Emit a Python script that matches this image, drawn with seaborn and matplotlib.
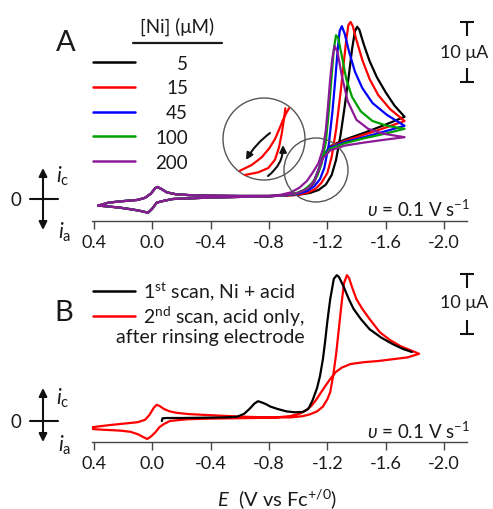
import numpy as np
import pandas as pd
import matplotlib
matplotlib.use("Agg")
import matplotlib.pyplot as plt
import seaborn as sns
from matplotlib.patches import Ellipse, FancyArrowPatch
from matplotlib.lines import Line2D

# ---------------- data (E in V vs Fc, i in uA, cathodic positive) ----------------
TICKS = [0.4, 0.0, -0.4, -0.8, -1.2, -1.6, -2.0]
TICK_LABELS = ["0.4", "0.0", "-0.4", "-0.8", "-1.2", "-1.6", "-2.0"]

# Panel A : common ferrocene part
A_FC_FWD_E = [0.37, 0.30, 0.20, 0.10, 0.05, 0.01, -0.02, -0.035, -0.06, -0.10, -0.16, -0.25, -0.40, -0.60, -0.80]
A_FC_FWD_I = [-1.1, -0.6, -0.35, -0.15, 0.2, 0.9, 1.8, 2.0, 1.7, 1.1, 0.8, 0.65, 0.55, 0.5, 0.5]
A_FC_REV_E = [-0.80, -0.60, -0.40, -0.25, -0.14, -0.08, -0.03, 0.00, 0.03, 0.06, 0.10, 0.15, 0.22, 0.30, 0.37]
A_FC_REV_I = [0.45, 0.35, 0.25, 0.1, 0.0, -0.3, -0.6, -1.6, -2.3, -2.1, -1.9, -1.7, -1.45, -1.25, -1.1]

NI_CONC = ["5", "15", "45", "100", "200"]
NI_COLORS = ["#000000", "#ff0000", "#0000ff", "#00a000", "#8b1a96"]

A_FWD_E = {
    "5":   [-0.90, -1.00, -1.08, -1.14, -1.19, -1.23, -1.26, -1.29, -1.32, -1.35, -1.37, -1.39, -1.405, -1.42, -1.45, -1.49, -1.54, -1.60, -1.66, -1.73],
    "15":  [-0.90, -1.00, -1.07, -1.12, -1.16, -1.20, -1.23, -1.26, -1.29, -1.31, -1.33, -1.345, -1.36, -1.375, -1.40, -1.44, -1.49, -1.55, -1.63, -1.73],
    "45":  [-0.90, -0.99, -1.06, -1.11, -1.15, -1.18, -1.21, -1.235, -1.255, -1.27, -1.285, -1.30, -1.32, -1.35, -1.39, -1.44, -1.51, -1.61, -1.73],
    "100": [-0.90, -0.98, -1.04, -1.09, -1.13, -1.16, -1.19, -1.21, -1.23, -1.245, -1.26, -1.275, -1.30, -1.33, -1.37, -1.43, -1.51, -1.61, -1.73],
    "200": [-0.88, -0.95, -1.01, -1.06, -1.10, -1.14, -1.17, -1.19, -1.205, -1.22, -1.235, -1.25, -1.27, -1.30, -1.34, -1.40, -1.48, -1.58, -1.73],
}
A_FWD_I = {
    "5":   [0.55, 0.7, 1.0, 1.5, 2.4, 4.0, 6.5, 10.5, 15.5, 21.0, 25.0, 28.0, 28.7, 28.2, 25.8, 23.0, 20.3, 17.8, 15.6, 13.7],
    "15":  [0.55, 0.7, 1.1, 1.7, 2.7, 4.3, 7.0, 11.5, 17.5, 22.0, 26.5, 29.0, 29.5, 28.8, 26.5, 23.2, 20.0, 17.3, 15.0, 13.0],
    "45":  [0.6, 0.8, 1.3, 2.1, 3.3, 5.2, 9.0, 14.5, 20.0, 24.5, 28.0, 28.8, 27.5, 24.5, 21.2, 18.5, 16.0, 14.0, 12.2],
    "100": [0.6, 0.9, 1.5, 2.5, 3.8, 5.8, 9.5, 14.5, 20.5, 25.0, 27.3, 26.8, 23.8, 20.0, 17.0, 14.6, 13.0, 12.2, 11.7],
    "200": [0.7, 1.1, 1.9, 3.0, 4.4, 6.0, 8.3, 11.5, 15.5, 20.0, 23.5, 25.5, 24.5, 20.5, 16.3, 13.2, 11.7, 10.9, 10.3],
}
A_REV_E = [-1.73, -1.60, -1.45, -1.32, -1.22, -1.17, -1.14, -1.11, -1.07, -1.00, -0.90]
A_REV_I = {
    "5":   [13.7, 12.4, 11.0, 9.9, 8.8, 7.0, 4.6, 2.8, 1.6, 0.9, 0.6],
    "15":  [13.0, 11.9, 10.7, 9.7, 8.7, 7.1, 4.8, 2.9, 1.7, 1.0, 0.6],
    "45":  [12.2, 11.3, 10.3, 9.5, 8.6, 7.1, 4.9, 3.0, 1.8, 1.0, 0.6],
    "100": [11.7, 10.9, 10.1, 9.3, 8.4, 7.0, 4.9, 3.0, 1.8, 1.0, 0.6],
    "200": [10.3, 9.9, 9.4, 8.9, 8.1, 6.8, 4.8, 3.0, 1.8, 1.0, 0.6],
}

# Panel B : 1st scan (Ni + acid), black
B1_E = [-0.065, -0.07, -0.10, -0.20, -0.35, -0.50, -0.58, -0.63, -0.67, -0.70, -0.725, -0.75, -0.78, -0.81,
        -0.86, -0.92, -0.98, -1.03, -1.07, -1.10, -1.13, -1.15, -1.17, -1.185, -1.20, -1.22, -1.245, -1.265,
        -1.28, -1.31, -1.35, -1.38, -1.43, -1.49, -1.57, -1.65, -1.72, -1.78]
B1_I = [0.0, 0.45, 0.5, 0.5, 0.55, 0.6, 0.7, 1.2, 2.1, 2.9, 3.3, 3.1, 2.8, 2.4,
        2.0, 1.6, 1.45, 1.5, 2.0, 3.5, 5.5, 7.5, 10.3, 13.2, 16.5, 20.3, 23.7, 24.3,
        24.0, 22.5, 20.2, 18.7, 17.0, 15.3, 13.9, 12.8, 12.0, 11.5]

# Panel B : 2nd scan (acid only), red
B2_E = [0.47, 0.40, 0.30, 0.20, 0.10, 0.05, 0.02, -0.01, -0.03, -0.05, -0.08, -0.12, -0.17, -0.25, -0.37,
        -0.50, -0.65, -0.80, -0.95, -1.03, -1.08, -1.13, -1.17, -1.20, -1.22, -1.24, -1.26, -1.28, -1.30,
        -1.315, -1.335, -1.35, -1.37, -1.40, -1.44, -1.49, -1.56, -1.63, -1.70, -1.77, -1.83,
        -1.75, -1.65, -1.55, -1.45, -1.36, -1.30, -1.26, -1.22, -1.18, -1.15, -1.12, -1.09, -1.05, -1.01,
        -0.94, -0.85, -0.70, -0.55, -0.40, -0.25, -0.18, -0.12, -0.08, -0.05, -0.02, 0.01, 0.035, 0.06,
        0.10, 0.15, 0.22, 0.30, 0.38, 0.47]
B2_I = [-1.2, -1.0, -0.7, -0.45, -0.2, 0.2, 1.0, 2.2, 2.7, 2.5, 2.0, 1.6, 1.35, 1.15, 1.0,
        0.85, 0.7, 0.6, 0.6, 0.8, 1.1, 1.6, 2.4, 3.6, 4.8, 7.5, 11.0, 15.5, 20.0,
        23.0, 24.3, 23.8, 22.3, 20.3, 18.7, 17.0, 14.8, 13.5, 12.5, 11.8, 11.2,
        10.6, 10.3, 10.0, 9.8, 9.5, 8.9, 8.2, 7.0, 5.6, 4.5, 3.4, 2.5, 1.7, 1.2,
        0.8, 0.6, 0.5, 0.45, 0.4, 0.3, 0.15, 0.0, -0.5, -1.0, -1.9, -2.6, -3.0, -2.7,
        -2.2, -1.8, -1.6, -1.5, -1.4, -1.2]

# ---------------- figure ----------------
W, H = 493, 510
sns.set_style("ticks")
plt.rcParams["font.family"] = ["Lato", "DejaVu Sans"]
plt.rcParams["mathtext.fontset"] = "custom"
plt.rcParams["mathtext.rm"] = "Lato"
plt.rcParams["mathtext.it"] = "Lato:italic"
plt.rcParams["mathtext.bf"] = "Lato:bold"
plt.rcParams["mathtext.fallback"] = "stixsans"
TXT = "#1a1a1a"
AX = "#444444"

fig = plt.figure(figsize=(W / 100, H / 100), dpi=100)


def fx(px):
    return px / W


def fy(py):
    return 1 - py / H


def E_of(px):
    return 0.4 - (px - 94) / 145.8


axA = fig.add_axes([fx(92), fy(222), (467 - 92) / W, 222 / H])
axB = fig.add_axes([fx(92), fy(443), (467 - 92) / W, (443 - 250) / H])
axA.set_xlim(E_of(92), E_of(467))
axB.set_xlim(E_of(92), E_of(467))
axA.set_ylim((200 - 222) / 6, 200 / 6)
axB.set_ylim((422 - 443) / 6, (422 - 250) / 6)

for ax in (axA, axB):
    ax.set_facecolor("none")
    for s in ("left", "top", "right"):
        ax.spines[s].set_visible(False)
    ax.spines["bottom"].set_color(AX)
    ax.spines["bottom"].set_linewidth(1.0)
    ax.set_xticks(TICKS)
    ax.set_xticklabels(TICK_LABELS)
    ax.set_yticks([])
    ax.tick_params(axis="x", direction="out", length=6, width=1.0, color=AX,
                   labelsize=13, labelcolor=TXT, pad=3.5)

# Panel A curves
for conc, col in zip(NI_CONC, NI_COLORS):
    E = A_FC_FWD_E + A_FWD_E[conc] + A_REV_E[1:] + A_FC_REV_E
    I = A_FC_FWD_I + A_FWD_I[conc] + A_REV_I[conc][1:] + A_FC_REV_I
    df = pd.DataFrame({"E": E, "i": I})
    sns.lineplot(data=df, x="E", y="i", sort=False, estimator=None, color=col,
                 lw=1.6, ax=axA, legend=False)

# Panel B curves
sns.lineplot(data=pd.DataFrame({"E": B2_E, "i": B2_I}), x="E", y="i", sort=False,
             estimator=None, color="#ff0000", lw=1.6, ax=axB, legend=False)
sns.lineplot(data=pd.DataFrame({"E": B1_E, "i": B1_I}), x="E", y="i", sort=False,
             estimator=None, color="#000000", lw=1.6, ax=axB, legend=False)
for ax in (axA, axB):
    ax.set_xlabel("")
    ax.set_ylabel("")

# ---------------- annotations ----------------
def fline(xs, ys, **kw):
    fig.add_artist(Line2D([fx(x) for x in xs], [fy(y) for y in ys],
                          transform=fig.transFigure, **kw))


def ftext(x, y, s, **kw):
    kw.setdefault("color", TXT)
    fig.text(fx(x), fy(y), s, **kw)


def farrow(p0, p1, style="-|>", rad=0.0, ms=9, lw=1.3, color="#111111"):
    fig.add_artist(FancyArrowPatch((fx(p0[0]), fy(p0[1])), (fx(p1[0]), fy(p1[1])),
                                   transform=fig.transFigure, arrowstyle=style,
                                   mutation_scale=ms, lw=lw, color=color,
                                   shrinkA=0, shrinkB=0,
                                   connectionstyle=f"arc3,rad={rad}"))


# panel letters
ftext(66, 43, "A", fontsize=21, ha="center", va="center")
ftext(64, 313, "B", fontsize=21, ha="center", va="center")

# legend A
ftext(177, 27, "[Ni] (μM)", fontsize=13.5, ha="center", va="center")
fline([133, 222], [44, 44], color=TXT, lw=1.6)
for k, (conc, col) in enumerate(zip(NI_CONC, NI_COLORS)):
    yy = 63 + k * 24.8
    fline([93, 135], [yy, yy], color=col, lw=1.8)
    ftext(188, yy + 1, conc, fontsize=13.5, ha="right", va="center")

# legend B
fline([93, 135], [292, 292], color="#000000", lw=1.8)
fline([93, 135], [317, 317], color="#ff0000", lw=1.8)
ftext(143, 292, r"1$^{\mathrm{st}}$ scan, Ni + acid", fontsize=14, ha="left", va="center")
ftext(143, 317, r"2$^{\mathrm{nd}}$ scan, acid only,", fontsize=14, ha="left", va="center")
ftext(116, 338, "after rinsing electrode", fontsize=14, ha="left", va="center")

# current direction symbols
for y0, ytop, ybot, yc, ya in ((200, 169, 231, 176, 232), (422, 389, 443, 398, 445)):
    ftext(16, y0 + 1, "0", fontsize=13.5, ha="center", va="center")
    fline([30, 58], [y0, y0], color="#111111", lw=1.5)
    farrow((43, y0), (43, ytop), ms=12, lw=1.5)
    farrow((43, y0), (43, ybot), ms=12, lw=1.5)
    ftext(56, yc, r"$i_\mathrm{c}$", fontsize=15, ha="left", va="center")
    ftext(58, ya, r"$i_\mathrm{a}$", fontsize=15, ha="left", va="center")

# scale bars (10 uA) drawn in data units
for ax, top, ytxt in ((axA, 29.5, 53), (axB, 24.5, 303)):
    xc = E_of(467)
    hw = 6.5 / 145.8
    st = 2.3
    kw = dict(color="#111111", lw=1.5, clip_on=False, solid_capstyle="butt")
    ax.plot([xc - hw, xc + hw], [top, top], **kw)
    ax.plot([xc, xc], [top, top - st], **kw)
    ax.plot([xc - hw, xc + hw], [top - 10, top - 10], **kw)
    ax.plot([xc, xc], [top - 10, top - 10 + st], **kw)
    ftext(464, ytxt, "10 μA", fontsize=13, ha="center", va="center")

# scan rate
for yy in (209, 431):
    ftext(470, yy, r"$\upsilon$ = 0.1 V s$^{-1}$", fontsize=13.5, ha="right", va="center")

# x label
ftext(277, 499, r"$E$  (V vs Fc$^{+/0}$)", fontsize=14.5, ha="center", va="center")

# magnifier circles
fig.add_artist(Ellipse((fx(264), fy(140)), 2 * 41 / W, 2 * 41 / H, transform=fig.transFigure,
                       fill=False, ec="#555555", lw=1.0))
fig.add_artist(Ellipse((fx(316), fy(171)), 2 * 32 / W, 2 * 32 / H, transform=fig.transFigure,
                       fill=False, ec="#555555", lw=1.0))

# magnified crossing inside circle
fline([240, 251.7, 261.7, 269.3, 275, 279.3, 282.7, 285.7, 289],
      [171.7, 166, 158.3, 149.3, 140, 130, 121.7, 115, 109.3], color="#ff0000", lw=1.6)
fline([245, 258.3, 268.3, 275, 279, 281.7, 283.7, 284.7, 285.3],
      [176, 173.3, 169, 160.7, 148.3, 135, 121.7, 115, 109.3], color="#ff0000", lw=1.6)
farrow((270, 134), (246, 161), rad=0.1, ms=10, lw=1.5)
farrow((268, 177), (283, 146), rad=0.25, ms=10, lw=1.5)

fig.savefig("out.png", dpi=100)
